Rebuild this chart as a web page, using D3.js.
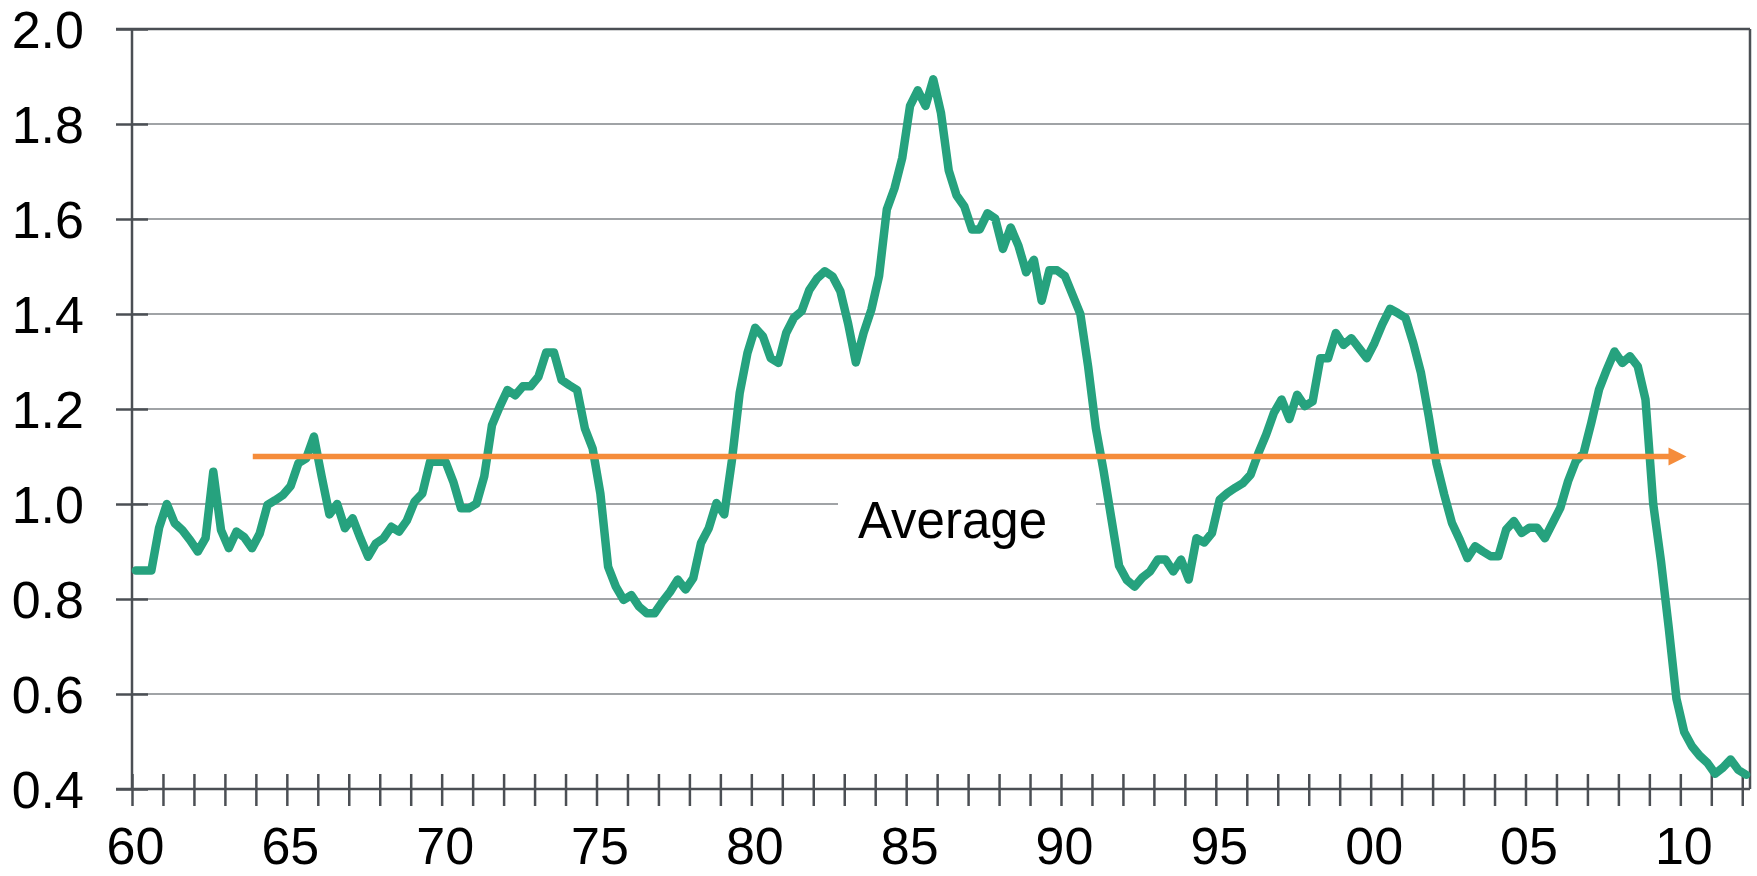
<!DOCTYPE html>
<html>
<head>
<meta charset="utf-8">
<script src="https://cdn.jsdelivr.net/npm/d3@7"></script>
<style>
body { margin: 0; background: #fff; }
svg { display: block; }
text { font-family: "Liberation Sans", Arial, sans-serif; }
</style>
</head>
<body>
<svg id="chart" width="1757" height="876"></svg>
<script>
// quarterly ratio, 1960 Q1 .. 2012 Q1
var ratio = [
    0.86, 0.86, 0.86, 0.95, 1.00, 0.96, 0.945, 0.924, 0.90, 0.928,
    1.068, 0.945, 0.907, 0.942, 0.93, 0.907, 0.938, 0.998, 1.008, 1.019,
    1.038, 1.086, 1.096, 1.142, 1.058, 0.978, 1.00, 0.949, 0.97, 0.928,
    0.889, 0.917, 0.928, 0.952, 0.942, 0.965, 1.005, 1.022, 1.089, 1.089,
    1.089, 1.047, 0.991, 0.991, 1.001, 1.058, 1.166, 1.205, 1.24, 1.229,
    1.248, 1.248, 1.268, 1.319, 1.319, 1.261, 1.25, 1.24, 1.159, 1.117,
    1.022, 0.868, 0.826, 0.798, 0.808, 0.784, 0.77, 0.77, 0.794, 0.815,
    0.841, 0.82, 0.844, 0.918, 0.949, 1.002, 0.978, 1.093, 1.234, 1.318,
    1.371, 1.353, 1.307, 1.297, 1.36, 1.392, 1.406, 1.451, 1.475, 1.49,
    1.479, 1.448, 1.38, 1.298, 1.36, 1.409, 1.48, 1.62, 1.665, 1.729,
    1.838, 1.871, 1.838, 1.894, 1.823, 1.702, 1.65, 1.627, 1.578, 1.578,
    1.612, 1.601, 1.537, 1.582, 1.544, 1.488, 1.514, 1.428, 1.492, 1.492,
    1.48, 1.44, 1.40, 1.29, 1.16, 1.07, 0.97, 0.87, 0.84, 0.826,
    0.845, 0.858, 0.883, 0.883, 0.858, 0.883, 0.841, 0.928, 0.919, 0.939,
    1.009, 1.023, 1.034, 1.044, 1.062, 1.107, 1.146, 1.192, 1.22, 1.179,
    1.23, 1.206, 1.216, 1.307, 1.307, 1.36, 1.335, 1.349, 1.328, 1.307,
    1.339, 1.378, 1.411, 1.402, 1.392, 1.339, 1.276, 1.185, 1.086, 1.02,
    0.96, 0.925, 0.886, 0.911, 0.90, 0.89, 0.89, 0.946, 0.964, 0.939,
    0.95, 0.95, 0.928, 0.96, 0.992, 1.048, 1.09, 1.107, 1.171, 1.241,
    1.283, 1.321, 1.297, 1.311, 1.29, 1.22, 1.00, 0.88, 0.74, 0.59,
    0.52, 0.49, 0.47, 0.455, 0.432, 0.445, 0.462, 0.44, 0.43
];
var startYear = 1960, endYear = 2012.25;
var yearTicks = d3.range(1960, 2013);
var yTicks = [0.4, 0.6, 0.8, 1.0, 1.2, 1.4, 1.6, 1.8, 2.0];

var avgLevel = 1.1, avgFrom = 1963.9, avgTo = 2010.2;
var avgLabel = "Average";

var lineColor = "#26a27e", avgColor = "#f58c3b",
    axisColor = "#4b4f54", gridColor = "#a0a3a6";

var svg = d3.select("#chart");
var plotL = 132, plotR = 1750, plotT = 29, plotB = 789;

var x = d3.scaleLinear().domain([startYear, endYear]).range([plotL, plotR]);
var y = d3.scaleLinear().domain([0.4, 2.0]).range([plotB, plotT]);

/* horizontal grid */
svg.append("g").selectAll("line")
    .data(yTicks.filter(function(v) { return v > 0.4 && v < 2.0; }))
    .enter().append("line")
    .attr("x1", plotL).attr("x2", plotR)
    .attr("y1", function(d) { return y(d); })
    .attr("y2", function(d) { return y(d); })
    .attr("stroke", gridColor).attr("stroke-width", 2);

/* white patch behind the label */
svg.append("rect")
    .attr("x", 838).attr("y", 472).attr("width", 258).attr("height", 90)
    .attr("fill", "#fff");
svg.append("text")
    .attr("x", 858).attr("y", 538)
    .attr("font-size", 51).attr("fill", "#000")
    .text(avgLabel);

/* axes */
var xAxis = d3.axisBottom(x)
    .tickValues(yearTicks)
    .tickSize(17).tickSizeOuter(0)
    .tickFormat(function(d) { return d % 5 == 0 ? d3.format("02")(d % 100) : ""; });
var gx = svg.append("g").attr("transform", "translate(0," + plotB + ")").call(xAxis);
gx.select(".domain").remove();
gx.selectAll(".tick line").attr("y1", -15).attr("y2", 17)
    .attr("stroke", axisColor).attr("stroke-width", 2.5);
gx.selectAll(".tick text").attr("y", 75).attr("dy", null).attr("dx", 3)
    .attr("font-size", 52).attr("fill", "#000").attr("font-family", null);

var yAxis = d3.axisLeft(y)
    .tickValues(yTicks)
    .tickSize(16).tickSizeOuter(0)
    .tickFormat(d3.format(".1f"));
var gy = svg.append("g").attr("transform", "translate(" + plotL + ",0)").call(yAxis);
gy.select(".domain").remove();
gy.selectAll(".tick line").attr("x1", 16)
    .attr("stroke", axisColor).attr("stroke-width", 2.5);
gy.selectAll(".tick text").attr("x", -48).attr("dy", "0.35em")
    .attr("font-size", 52).attr("fill", "#000").attr("font-family", null);

/* frame */
var frame = svg.append("g").attr("stroke", axisColor).attr("stroke-width", 2.5);
frame.append("line").attr("x1", plotL).attr("x2", plotL).attr("y1", plotT).attr("y2", plotB);
frame.append("line").attr("x1", plotL - 16).attr("x2", plotR).attr("y1", plotB).attr("y2", plotB);
frame.append("line").attr("x1", plotL - 16).attr("x2", plotR).attr("y1", plotT).attr("y2", plotT);
frame.append("line").attr("x1", plotR).attr("x2", plotR).attr("y1", plotT).attr("y2", plotB);

/* series */
var line = d3.line()
    .x(function(d, i) { return x(startYear + (i + 0.5) / 4); })
    .y(function(d) { return y(d); });
svg.append("path")
    .datum(ratio)
    .attr("d", line)
    .attr("fill", "none")
    .attr("stroke", lineColor)
    .attr("stroke-width", 8.5)
    .attr("stroke-linejoin", "round")
    .attr("stroke-linecap", "round");

/* average arrow */
var ay = y(avgLevel), tip = x(avgTo);
svg.append("line")
    .attr("x1", x(avgFrom)).attr("x2", tip - 16)
    .attr("y1", ay).attr("y2", ay)
    .attr("stroke", avgColor).attr("stroke-width", 5.5);
svg.append("path")
    .attr("d", "M" + tip + "," + ay + "L" + (tip - 18) + "," + (ay - 9) + "L" + (tip - 18) + "," + (ay + 9) + "Z")
    .attr("fill", avgColor);
</script>
</body>
</html>
